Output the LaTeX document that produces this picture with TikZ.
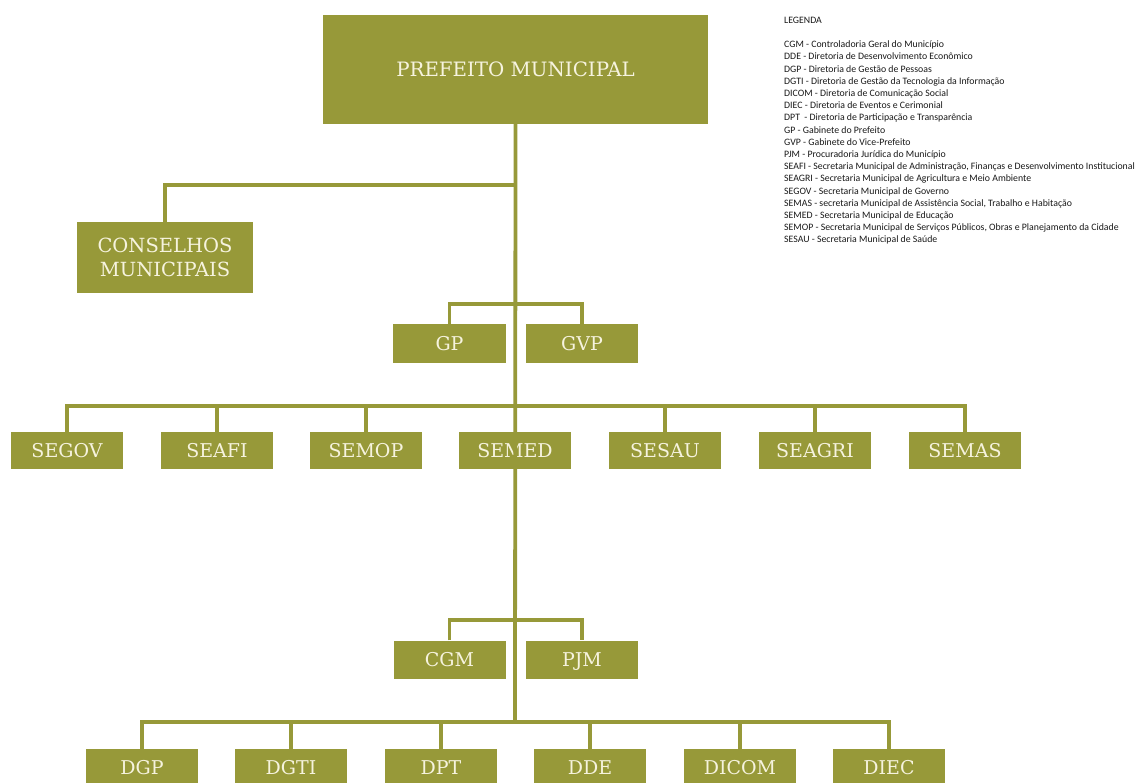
\documentclass[tikz,border=0pt]{standalone}
\usepackage{fontspec}
\setmainfont{DejaVu Serif}
\newfontfamily\legfont{Carlito}
\definecolor{olive}{RGB}{151,153,57}
\definecolor{cream}{RGB}{246,243,222}
\definecolor{legtext}{RGB}{25,25,25}
\tikzset{
  orgbox/.style={fill=olive, text=cream, inner sep=0pt, align=center, font=\fontsize{19}{22}\selectfont},
  rowbox/.style={orgbox, minimum width=112pt, minimum height=37pt, text height=13.9pt, text depth=0pt},
  link/.style={draw=olive, line width=3.8pt, line join=miter}
}
\begin{document}
\begin{tikzpicture}[x=1pt,y=-1pt]
\clip (0,0) rectangle (1138,783);
\fill[white] (0,0) rectangle (1138,783);

% boxes
\node[orgbox, minimum width=385pt, minimum height=109pt, text height=14.4pt, text depth=0pt, font=\fontsize{19.8}{22}\selectfont] (pref) at (515.5,69.5) {PREFEITO MUNICIPAL};
\node[orgbox, minimum width=176pt, minimum height=71pt, font=\fontsize{19.5}{24}\selectfont] (cons) at (165,257.5) {CONSELHOS\\MUNICIPAIS};
\node[rowbox, minimum width=113pt, minimum height=39pt] (gp) at (449.5,343.5) {GP};
\node[rowbox, minimum height=39pt] (gvp) at (582,343.5) {GVP};

\node[rowbox] (segov)  at (67,450.5)  {SEGOV};
\node[rowbox] (seafi)  at (217,450.5) {SEAFI};
\node[rowbox] (semop)  at (366,450.5) {SEMOP};
\node[rowbox] (semed)  at (515,450.5) {SEMED};
\node[rowbox] (sesau)  at (665,450.5) {SESAU};
\node[rowbox] (seagri) at (815,450.5) {SEAGRI};
\node[rowbox] (semas)  at (965,450.5) {SEMAS};

\node[rowbox, minimum height=38pt] (cgm) at (449.5,659.5) {CGM};
\node[rowbox, minimum height=38pt] (pjm) at (582,659.5) {PJM};

\node[rowbox] (dgp)   at (142,767.5) {DGP};
\node[rowbox] (dgti)  at (291,767.5) {DGTI};
\node[rowbox] (dpt)   at (441,767.5) {DPT};
\node[rowbox] (dde)   at (590,767.5) {DDE};
\node[rowbox] (dicom) at (740,767.5) {DICOM};
\node[rowbox] (diec)  at (889,767.5) {DIEC};

% connectors
\coordinate (tend) at (515,722);
\draw[link] (pref.south) -- (tend);
\draw[link] (cons.north) |- (515,185);
\draw[link] (gp.north) -- ++(0,-20) -| (gvp.north);
\draw[link] (segov.north) -- ++(0,-26) -| (semas.north);
\foreach \n in {seafi,semop,sesau,seagri} \draw[link] (\n.north) -- ++(0,-26);
\draw[link] (cgm.north) -- ++(0,-20) -| (pjm.north);
\draw[link] (dgp.north) -- ++(0,-27) -| (diec.north);
\foreach \n in {dgti,dpt,dde,dicom} \draw[link] (\n.north) -- ++(0,-27);

% legend
\node[anchor=north west, inner sep=0pt, align=left, text=legtext,
      font=\legfont\fontsize{9.8}{12.2}\selectfont] (legend) at (784,17) {%
LEGENDA\\[12pt]
CGM - Controladoria Geral do Município\\
DDE - Diretoria de Desenvolvimento Econômico\\
DGP - Diretoria de Gestão de Pessoas\\
DGTI - Diretoria de Gestão da Tecnologia da Informação\\
DICOM - Diretoria de Comunicação Social\\
DIEC - Diretoria de Eventos e Cerimonial\\
DPT\ \ - Diretoria de Participação e Transparência\\
GP - Gabinete do Prefeito\\
GVP - Gabinete do Vice-Prefeito\\
PJM - Procuradoria Jurídica do Município\\
SEAFI - Secretaria Municipal de Administração, Finanças e Desenvolvimento Institucional\\
SEAGRI - Secretaria Municipal de Agricultura e Meio Ambiente\\
SEGOV - Secretaria Municipal de Governo\\
SEMAS - secretaria Municipal de Assistência Social, Trabalho e Habitação\\
SEMED - Secretaria Municipal de Educação\\
SEMOP - Secretaria Municipal de Serviços Públicos, Obras e Planejamento da Cidade\\
SESAU - Secretaria Municipal de Saúde};
\end{tikzpicture}
\end{document}
